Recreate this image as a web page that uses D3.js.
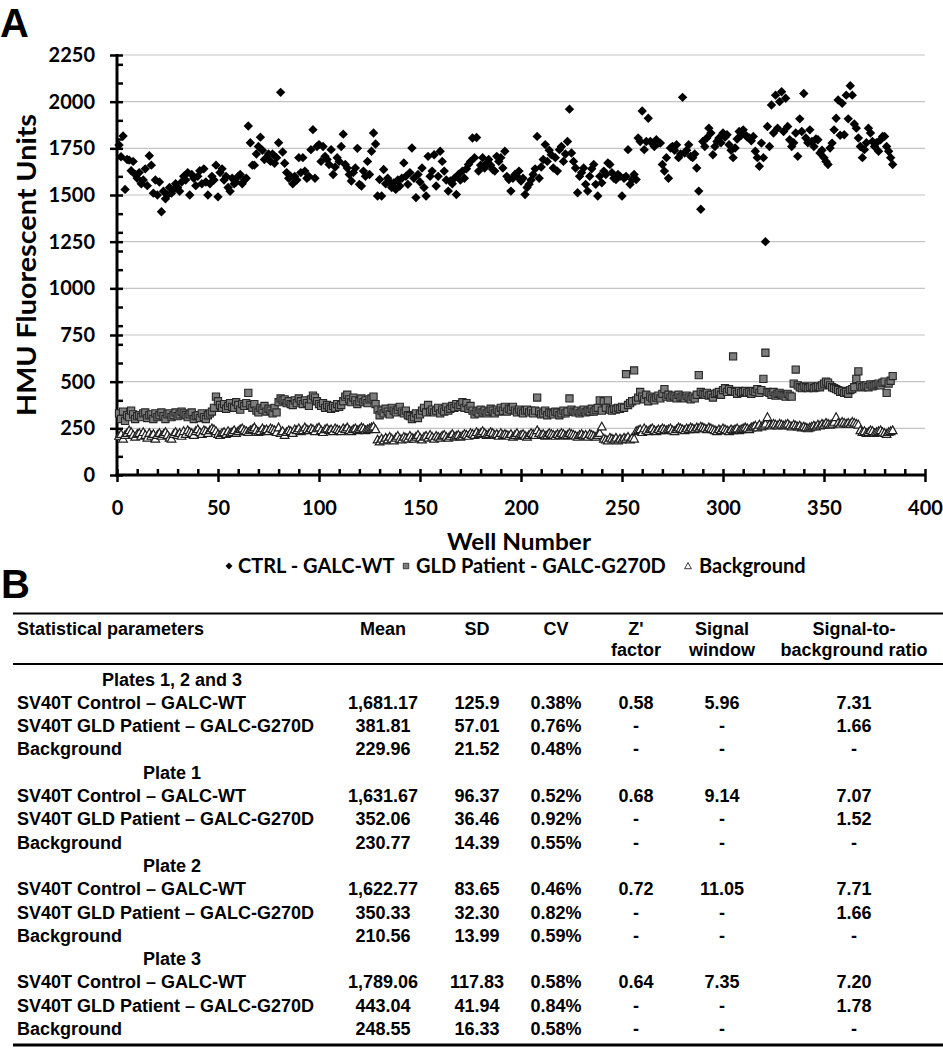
<!DOCTYPE html>
<html><head><meta charset="utf-8">
<script src="https://cdn.jsdelivr.net/npm/d3@7/dist/d3.min.js"></script>
<style>body{margin:0;background:#fff}svg{display:block}</style>
</head><body><svg id="c" width="943" height="1050"></svg>
<script>
// ---------- DATA (wells 1..384, three plates of 128) ----------
const ctrlP1=[1768,1705,1816,1530,1690,1687,1630,1680,1610,1590,1620,1560,1580,1640,1550,1710,
1660,1510,1580,1500,1570,1410,1520,1480,1500,1540,1510,1530,1560,1540,1520,1570,
1600,1580,1620,1500,1610,1590,1550,1600,1630,1560,1640,1570,1500,1560,1600,1580,
1660,1490,1620,1640,1580,1600,1540,1520,1590,1560,1570,1600,1610,1560,1580,1590,
1870,1780,1660,1660,1720,1760,1810,1740,1690,1700,1720,1680,1720,1670,1700,1780,
2050,1730,1670,1620,1590,1600,1560,1600,1580,1700,1620,1700,1628,1590,1600,1743,
1850,1590,1760,1770,1680,1760,1707,1690,1663,1743,1610,1650,1700,1680,1760,1826,
1663,1645,1610,1575,1620,1645,1750,1557,1548,1628,1600,1680,1610,1734,1832,1773];
const ctrlP2=[1495,1583,1495,1637,1560,1590,1570,1540,1565,1530,1580,1548,1590,1672,1600,1557,
1620,1752,1590,1486,1610,1570,1645,1540,1495,1707,1600,1628,1716,1548,1600,1734,
1680,1628,1580,1521,1575,1560,1590,1503,1610,1580,1628,1590,1640,1663,1680,1805,
1700,1808,1628,1660,1700,1645,1672,1690,1660,1637,1628,1707,1680,1700,1645,1734,
1600,1583,1521,1590,1610,1600,1628,1575,1590,1503,1540,1557,1580,1610,1640,1814,
1590,1650,1690,1770,1680,1740,1716,1645,1700,1628,1743,1760,1680,1720,1787,1960,
1725,1680,1645,1512,1600,1620,1645,1557,1521,1600,1640,1663,1557,1495,1600,1565,
1628,1610,1672,1663,1619,1590,1583,1610,1600,1495,1590,1600,1743,1557,1583,1610];
const ctrlP3=[1583,1805,1787,1950,1743,1787,1911,1787,1778,1760,1796,1778,1778,1663,1628,1700,
1590,1752,1760,1740,1769,1700,1720,2023,1725,1740,1769,1707,1700,1720,1645,1521,
1424,1787,1760,1805,1858,1832,1716,1760,1787,1805,1780,1832,1810,1823,1769,1740,
1700,1752,1800,1840,1820,1849,1823,1810,1805,1790,1814,1734,1700,1654,1778,1700,
1250,1867,1760,1982,1832,2035,1858,2000,2053,1840,2018,1867,1796,1760,1780,1832,
1707,1908,1840,2044,1805,1780,1849,1787,1760,1800,1796,1725,1740,1700,1680,1663,
1752,1778,1849,1911,2009,1820,1991,1823,2035,1908,2085,2035,1880,1858,1805,1760,
1700,1743,1780,1858,1832,1787,1760,1780,1734,1796,1814,1814,1760,1734,1700,1663];

const gldP1=[330,300,340,290,320,310,345,325,300,315,320,310,330,335,305,320,
325,300,330,310,320,335,315,300,325,330,310,320,335,315,325,340,
330,320,310,325,335,300,315,320,305,330,310,300,320,330,340,360,
420,395,375,360,380,355,370,385,365,360,390,375,350,380,370,385,
440,375,360,380,345,335,360,350,370,340,355,345,330,360,335,390,
410,400,405,385,395,380,375,400,385,410,395,380,400,385,370,405,
425,415,395,380,370,385,360,375,365,355,370,360,380,365,375,395,
420,430,405,390,415,400,380,395,410,390,400,385,405,410,420,380];
const gldP2=[350,320,345,330,355,340,325,360,345,335,350,365,340,330,345,320,
315,300,310,330,305,325,345,360,335,375,340,350,335,345,360,330,
350,340,365,345,355,370,360,380,365,375,390,360,385,355,370,345,
325,340,330,350,335,345,330,340,355,345,330,350,340,360,345,365,
340,355,350,365,345,335,350,340,330,345,350,335,345,330,345,415,
340,325,330,345,320,335,330,325,340,335,320,330,345,330,340,410,
350,340,335,345,330,340,350,335,345,340,355,340,350,360,400,345,
395,360,400,350,345,355,350,360,355,365,360,540,375,385,395,560];
const gldP3=[400,415,445,420,405,430,395,420,410,400,415,425,410,435,460,420,
430,415,425,420,410,430,415,420,410,425,415,405,420,410,430,535,
445,435,430,440,425,430,415,435,440,445,430,455,465,445,460,450,
635,445,435,450,440,445,450,440,445,435,450,445,460,440,455,515,
655,445,440,430,445,425,435,440,430,425,420,435,425,420,490,565,
480,470,465,475,470,465,470,475,465,470,475,470,480,490,500,495,
480,470,465,460,455,445,450,440,445,435,455,460,470,515,555,480,
470,475,480,470,485,475,480,485,490,480,495,500,440,490,505,530];

const bgP1=[210,220,195,215,225,240,230,215,205,220,225,210,230,215,200,225,
210,220,195,215,225,210,220,230,215,200,195,220,230,215,225,210,
235,220,240,230,225,215,235,245,230,220,240,235,225,240,250,245,
235,220,215,225,230,220,235,225,230,240,225,235,245,250,240,235,
230,240,245,255,240,230,235,250,240,245,235,250,245,240,230,255,
225,235,215,230,240,235,225,245,240,250,235,240,255,245,240,250,
245,235,250,255,240,230,245,250,240,245,235,250,245,240,235,250,
245,255,240,235,245,250,240,245,255,250,240,245,250,255,260,245];
const bgP2=[190,180,195,185,200,190,205,195,185,200,210,195,190,205,200,195,
210,200,195,205,215,200,190,205,210,200,215,205,195,210,205,200,
210,215,205,200,210,220,205,210,215,205,210,220,215,210,225,220,
215,230,220,225,235,225,215,220,230,225,215,220,210,225,215,220,
215,210,220,205,215,225,210,215,220,210,205,215,225,220,215,240,
225,215,220,210,215,225,220,215,210,220,215,225,220,210,215,225,
220,215,210,205,215,220,210,215,205,220,215,210,205,215,225,260,
195,190,185,200,195,190,200,185,195,190,200,195,205,190,200,195];
const bgP3=[235,240,245,230,250,240,235,245,250,240,235,245,240,250,245,240,
245,250,240,235,245,255,250,245,240,250,245,255,250,245,255,250,
260,255,250,245,255,250,245,240,235,245,240,250,245,240,235,245,
240,245,250,240,245,250,255,250,245,255,260,265,255,270,260,265,
275,310,270,265,275,270,265,275,270,265,270,275,265,260,270,265,
260,265,255,260,255,250,255,260,265,260,270,265,275,270,280,275,
270,275,285,310,280,275,285,280,275,280,275,285,280,275,270,240,
230,235,225,230,240,235,225,230,235,240,230,225,220,230,235,240];

const xTicks=[0,50,100,150,200,250,300,350,400];
const yTicks=[0,250,500,750,1000,1250,1500,1750,2000,2250];
const seriesNames=["CTRL - GALC-WT","GLD Patient - GALC-G270D","Background"];

// table
const sectionTitles=["Plates 1, 2 and 3","Plate 1","Plate 2","Plate 3"];
const rowNames=["SV40T Control \u2013 GALC-WT","SV40T GLD Patient \u2013 GALC-G270D","Background"];
const meanVals=["1,681.17","381.81","229.96","1,631.67","352.06","230.77","1,622.77","350.33","210.56","1,789.06","443.04","248.55"];
const sdVals=["125.9","57.01","21.52","96.37","36.46","14.39","83.65","32.30","13.99","117.83","41.94","16.33"];
const cvVals=["0.38%","0.76%","0.48%","0.52%","0.92%","0.55%","0.46%","0.82%","0.59%","0.58%","0.84%","0.58%"];
const zVals=["0.58","-","-","0.68","-","-","0.72","-","-","0.64","-","-"];
const swVals=["5.96","-","-","9.14","-","-","11.05","-","-","7.35","-","-"];
const sbVals=["7.31","1.66","-","7.07","1.52","-","7.71","1.66","-","7.20","1.78","-"];

// ---------- DRAW ----------
const ctrl=ctrlP1.concat(ctrlP2,ctrlP3);
const gld=gldP1.concat(gldP2,gldP3);
const bg=bgP1.concat(bgP2,bgP3);
const svg=d3.select("#c");
const CF="Lato, 'Open Sans', sans-serif";
const TF="'Liberation Sans', Arial, sans-serif";

const x=d3.scaleLinear().domain([0,400]).range([117,925]);
const y=d3.scaleLinear().domain([0,2250]).range([475,55]);

svg.append("text").attr("x",0).attr("y",37).attr("font-family",TF).attr("font-weight","bold")
  .attr("font-size",40).text("A");

// gridlines
svg.append("g").selectAll("line").data(yTicks.filter(d=>d>0)).join("line")
  .attr("x1",x(0)).attr("x2",x(400)).attr("y1",d=>y(d)).attr("y2",d=>y(d))
  .attr("stroke","#c4c4c4").attr("stroke-width",1.2);

// y axis
const minorY=d3.range(100,2250,100).filter(v=>v%250!==0);
const minorX=d3.range(10,400,10).filter(v=>v%50!==0);
const ya=svg.append("g").attr("transform",`translate(${x(0)},0)`)
  .call(d3.axisLeft(y).tickValues(yTicks).tickSize(7).tickSizeOuter(0).tickPadding(15).tickFormat(d3.format("d")));
ya.select(".domain").remove();
ya.selectAll("line").attr("stroke","#000").attr("stroke-width",2.5);
ya.selectAll("text").attr("font-family",CF).attr("font-weight","bold").attr("font-size",20).attr("fill","#000");
svg.append("g").attr("transform",`translate(${x(0)},0)`)
  .call(d3.axisRight(y).tickValues(yTicks.concat(minorY)).tickSize(6).tickSizeOuter(0).tickFormat(""))
  .call(g=>g.select(".domain").remove())
  .selectAll("line").attr("stroke","#000").attr("stroke-width",2.5);

// x axis
const xa=svg.append("g").attr("transform",`translate(0,${y(0)})`)
  .call(d3.axisBottom(x).tickValues(xTicks).tickSize(7).tickSizeOuter(0).tickPadding(19));
xa.select(".domain").remove();
xa.selectAll("line").attr("stroke","#000").attr("stroke-width",2.5);
xa.selectAll("text").attr("font-family",CF).attr("font-weight","bold").attr("font-size",20).attr("fill","#000");
svg.append("g").attr("transform",`translate(0,${y(0)})`)
  .call(d3.axisTop(x).tickValues(xTicks.concat(minorX)).tickSize(6).tickSizeOuter(0).tickFormat(""))
  .call(g=>g.select(".domain").remove())
  .selectAll("line").attr("stroke","#000").attr("stroke-width",2.5);

// axis lines
svg.append("line").attr("x1",x(0)).attr("x2",x(0)).attr("y1",y(2250)-1).attr("y2",y(0)+1.5)
  .attr("stroke","#000").attr("stroke-width",3);
svg.append("line").attr("x1",x(0)-1.5).attr("x2",x(400)+1).attr("y1",y(0)).attr("y2",y(0))
  .attr("stroke","#000").attr("stroke-width",3);

// titles
svg.append("text").attr("transform",`translate(36,${(y(0)+y(2250))/2}) rotate(-90)`)
  .attr("text-anchor","middle").attr("font-family",CF).attr("font-weight","bold").attr("font-size",27)
  .attr("textLength",302).attr("lengthAdjust","spacingAndGlyphs").text("HMU Fluorescent Units");
svg.append("text").attr("x",519).attr("y",550).attr("text-anchor","middle").attr("font-family",CF)
  .attr("font-weight","bold").attr("font-size",23).attr("textLength",144).attr("lengthAdjust","spacingAndGlyphs").text("Well Number");

// markers
const diamond=s=>`M0,${-s}L${s},0L0,${s}L${-s},0Z`;
const tri=s=>`M0,${-s}L${s},${s*0.8}L${-s},${s*0.8}Z`;
const plot=svg.append("g");
plot.append("g").selectAll("path").data(gld).join("path")
  .attr("transform",(d,i)=>`translate(${x(i+1)},${y(d)})`)
  .attr("d",d3.symbol(d3.symbolSquare,52)())
  .attr("fill","#7d7d7d").attr("stroke","#262626").attr("stroke-width",1.1);
plot.append("g").selectAll("path").data(bg).join("path")
  .attr("transform",(d,i)=>`translate(${x(i+1)},${y(d)})`)
  .attr("d",tri(4.3)).attr("fill","#fff").attr("stroke","#1e1e1e").attr("stroke-width",1.2);
plot.append("g").selectAll("path").data(ctrl).join("path")
  .attr("transform",(d,i)=>`translate(${x(i+1)},${y(d)})`)
  .attr("d",diamond(4.7)).attr("fill","#000");

// legend
const lg=svg.append("g").attr("font-family",CF).attr("font-weight","bold").attr("font-size",20);
const legX=[[229,238],[406,416],[688,699]];
lg.append("path").attr("transform",`translate(${legX[0][0]},566)`).attr("d",diamond(3.5)).attr("fill","#000");
lg.append("path").attr("transform",`translate(${legX[1][0]},566)`).attr("d",d3.symbol(d3.symbolSquare,30)())
  .attr("fill","#7d7d7d").attr("stroke","#262626").attr("stroke-width",0.8);
lg.append("path").attr("transform",`translate(${legX[2][0]},566)`).attr("d",tri(3.4)).attr("fill","#fff").attr("stroke","#222").attr("stroke-width",0.9);
seriesNames.forEach((n,i)=>{
  lg.append("text").attr("x",legX[i][1]).attr("y",573).text(n);
});

// ---------- TABLE ----------
svg.append("text").attr("x",1).attr("y",598).attr("font-family",TF).attr("font-weight","bold")
  .attr("font-size",40).text("B");
const tb=svg.append("g").attr("font-family",TF).attr("font-weight","bold").attr("font-size",18).attr("fill","#000");
tb.append("line").attr("x1",13).attr("x2",943).attr("y1",613.5).attr("y2",613.5).attr("stroke","#000").attr("stroke-width",2);
tb.append("line").attr("x1",13).attr("x2",943).attr("y1",664).attr("y2",664).attr("stroke","#000").attr("stroke-width",2);
tb.append("line").attr("x1",13).attr("x2",943).attr("y1",1045).attr("y2",1045).attr("stroke","#000").attr("stroke-width",3);
const colX=[383,477,556,636,722,854];
tb.append("text").attr("x",17).attr("y",635).text("Statistical parameters");
const head1=["Mean","SD","CV","Z'","Signal","Signal-to-"];
const head2=["","","","factor","window","background ratio"];
head1.forEach((h,i)=>tb.append("text").attr("x",colX[i]).attr("y",635).attr("text-anchor","middle").text(h));
head2.forEach((h,i)=>{ if(h) tb.append("text").attr("x",colX[i]).attr("y",656).attr("text-anchor","middle").text(h);});
const rowY=k=>679+23.3*k+6.5;
sectionTitles.forEach((s,si)=>{
  tb.append("text").attr("x",172).attr("y",rowY(si*4)).attr("text-anchor","middle").text(s);
  rowNames.forEach((r,ri)=>{
    const k=si*4+ri+1, j=si*3+ri;
    tb.append("text").attr("x",17).attr("y",rowY(k)).text(r);
    [meanVals,sdVals,cvVals,zVals,swVals,sbVals].forEach((arr,ci)=>{
      tb.append("text").attr("x",colX[ci]).attr("y",rowY(k)).attr("text-anchor","middle").text(arr[j]);
    });
  });
});
</script></body></html>
